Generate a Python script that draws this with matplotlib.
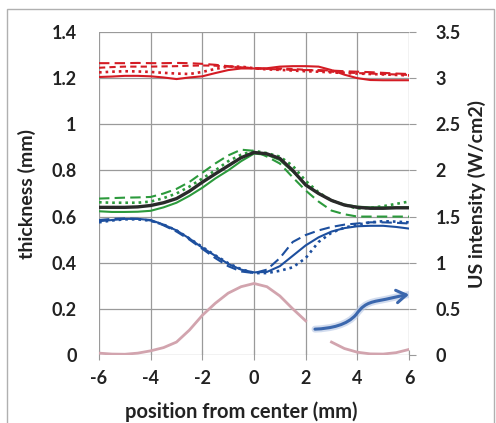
import numpy as np
import matplotlib
matplotlib.use("Agg")
import matplotlib.pyplot as plt
from matplotlib.path import Path
from matplotlib.patches import FancyArrowPatch, Rectangle

plt.rcParams['font.family'] = ['Lato', 'DejaVu Sans']
plt.rcParams['font.weight'] = 'bold'

# ---------------- data ----------------
x = [-6, -5.5, -5, -4.5, -4, -3.5, -3, -2.5, -2, -1.5, -1, -0.5, 0,
     0.5, 1, 1.5, 2, 2.5, 3, 3.5, 4, 4.5, 5, 5.5, 6]

red_solid = [1.205, 1.207, 1.21, 1.21, 1.208, 1.203, 1.196, 1.203, 1.208, 1.222, 1.235, 1.242, 1.242,
             1.243, 1.25, 1.252, 1.252, 1.25, 1.235, 1.215, 1.2, 1.192, 1.191, 1.191, 1.191]
red_dash = [1.265, 1.265, 1.265, 1.266, 1.265, 1.265, 1.266, 1.265, 1.262, 1.258, 1.252, 1.247, 1.243,
            1.24, 1.238, 1.236, 1.235, 1.235, 1.233, 1.23, 1.228, 1.226, 1.223, 1.22, 1.218]
red_dash2 = [1.245, 1.248, 1.25, 1.25, 1.25, 1.251, 1.252, 1.254, 1.255, 1.254, 1.25, 1.246, 1.243,
             1.24, 1.242, 1.24, 1.236, 1.232, 1.228, 1.225, 1.222, 1.22, 1.218, 1.216, 1.214]
red_dot = [1.225, 1.228, 1.23, 1.229, 1.227, 1.223, 1.22, 1.218, 1.227, 1.24, 1.25, 1.25, 1.243,
           1.238, 1.236, 1.233, 1.23, 1.228, 1.225, 1.222, 1.22, 1.218, 1.216, 1.214, 1.212]

black_fit = [0.64, 0.64, 0.64, 0.642, 0.648, 0.66, 0.678, 0.71, 0.749, 0.785, 0.82, 0.855, 0.878,
             0.872, 0.852, 0.8, 0.737, 0.7, 0.67, 0.65, 0.64, 0.636, 0.636, 0.638, 0.638]
green_solid = [0.623, 0.62, 0.62, 0.621, 0.625, 0.64, 0.66, 0.69, 0.725, 0.765, 0.8, 0.84, 0.873,
               0.868, 0.845, 0.795, 0.74, 0.7, 0.67, 0.652, 0.643, 0.64, 0.64, 0.64, 0.64]
green_dash = [0.678, 0.68, 0.682, 0.683, 0.685, 0.7, 0.72, 0.75, 0.79, 0.83, 0.865, 0.89, 0.885,
              0.86, 0.83, 0.77, 0.713, 0.665, 0.626, 0.61, 0.6, 0.6, 0.6, 0.6, 0.6]
green_dot = [0.662, 0.66, 0.66, 0.66, 0.665, 0.68, 0.7, 0.73, 0.765, 0.8, 0.84, 0.868, 0.885,
             0.875, 0.86, 0.82, 0.755, 0.705, 0.67, 0.65, 0.635, 0.638, 0.645, 0.655, 0.665]

blue_solid = [0.58, 0.585, 0.59, 0.59, 0.585, 0.565, 0.54, 0.505, 0.465, 0.43, 0.395, 0.37, 0.358,
              0.36, 0.385, 0.43, 0.475, 0.51, 0.535, 0.55, 0.558, 0.56, 0.56, 0.555, 0.548]
blue_dash = [0.585, 0.59, 0.592, 0.59, 0.583, 0.562, 0.535, 0.5, 0.46, 0.42, 0.385, 0.362, 0.355,
             0.37, 0.42, 0.49, 0.52, 0.54, 0.555, 0.565, 0.57, 0.575, 0.575, 0.573, 0.57]
blue_dot = [0.575, 0.583, 0.588, 0.588, 0.582, 0.565, 0.54, 0.505, 0.468, 0.432, 0.398, 0.372, 0.355,
            0.355, 0.365, 0.38, 0.42, 0.49, 0.53, 0.552, 0.565, 0.575, 0.58, 0.578, 0.575]

intensity = [0.02, 0.01, 0.008, 0.02, 0.045, 0.08, 0.14, 0.27, 0.43, 0.56, 0.67, 0.74, 0.775,
             0.74, 0.64, 0.5, 0.37, np.nan, 0.14, 0.07, 0.03, 0.012, 0.01, 0.025, 0.06]

# annotation arrow: cubic bezier control points (left-axis data coordinates)
arrow_x = [2.36, 3.0, 3.6, 3.95, 4.15, 4.3, 4.8, 5.2, 5.6, 6.0]
arrow_y = [0.112, 0.115, 0.13, 0.175, 0.205, 0.225, 0.235, 0.243, 0.255, 0.262]

xticks = [-6, -4, -2, 0, 2, 4, 6]
yticks_left = [0, 0.2, 0.4, 0.6, 0.8, 1.0, 1.2, 1.4]
yticklabels_left = ['0', '0.2', '0.4', '0.6', '0.8', '1', '1.2', '1.4']
yticks_right = [0, 0.5, 1, 1.5, 2, 2.5, 3, 3.5]
yticklabels_right = ['0', '0.5', '1', '1.5', '2', '2.5', '3', '3.5']

# ---------------- figure ----------------
fig = plt.figure(figsize=(4.96, 4.23), dpi=100)
ax = fig.add_axes([0.1996, 0.1608, 0.625, 0.7635])
ax2 = ax.twinx()

RED = '#d41c24'
GREEN = '#2c9a3c'
BLUE = '#1d4f9e'
BLACK = '#2a2a2a'
PINK = '#d2a4ae'

lw = 1.5
ax.plot(x, red_solid, color=RED, lw=lw, ls='-')
ax.plot(x, red_dash, color=RED, lw=lw, ls=(0, (5, 2.5)))
ax.plot(x, red_dash2, color=RED, lw=lw, ls=(0, (3, 2)))
ax.plot(x, red_dot, color=RED, lw=lw + 0.4, ls=(0, (1, 1.5)))

ax.plot(x, green_solid, color=GREEN, lw=lw, ls='-')
ax.plot(x, green_dash, color=GREEN, lw=lw, ls=(0, (5, 2.5)))
ax.plot(x, green_dot, color=GREEN, lw=lw + 0.4, ls=(0, (1, 1.5)))
ax.plot(x, black_fit, color=BLACK, lw=2.4, ls='-')

ax.plot(x, blue_solid, color=BLUE, lw=lw, ls='-')
ax.plot(x, blue_dash, color=BLUE, lw=lw, ls=(0, (5, 2.5)))
ax.plot(x, blue_dot, color=BLUE, lw=lw + 0.4, ls=(0, (1, 1.5)))

ax2.plot(x, intensity, color=PINK, lw=2.0)

# arrow
verts = list(zip(arrow_x, arrow_y))
codes = [Path.MOVETO] + [Path.CURVE4] * (len(verts) - 1)
path = Path(verts, codes)
shadow = FancyArrowPatch(path=path, arrowstyle='-', color='#b4c5e4', lw=5, alpha=0.6,
                         transform=ax.transData, zorder=4)
ax.add_patch(shadow)
arr = FancyArrowPatch(path=path, arrowstyle='->,head_length=7,head_width=4.5', color='#3b67ad', lw=2.2,
                      transform=ax.transData, zorder=5, mutation_scale=1)
ax.add_patch(arr)

ax.set_xlim(-6, 6)
ax.set_ylim(0, 1.4)
ax2.set_ylim(0, 3.5)
ax.set_xticks(xticks)
ax.set_xticklabels([str(t) for t in xticks])
ax.set_yticks(yticks_left)
ax.set_yticklabels(yticklabels_left)
ax2.set_yticks(yticks_right)
ax2.set_yticklabels(yticklabels_right)

ax.grid(True, color='#9a9a9a', lw=0.9)
ax.set_axisbelow(True)
for a in (ax, ax2):
    for s in a.spines.values():
        s.set_visible(False)

ax.tick_params(axis='x', direction='inout', length=7, color='#9a9a9a', labelsize=13, pad=7,
               labelcolor='#222222')
ax.tick_params(axis='y', length=0, labelsize=13, pad=16, labelcolor='#222222')
ax2.tick_params(axis='y', direction='out', length=5, color='#9a9a9a', labelsize=13, pad=14,
                labelcolor='#222222')

ax.set_xlabel('position from center (mm)', fontsize=14.5, fontweight='bold', color='#222222', labelpad=11)
ax.xaxis.label.set_x(0.46)
ax.set_ylabel('thickness (mm)', fontsize=14, fontweight='bold', color='#222222', labelpad=11)
ax2.set_ylabel('US intensity (W/cm2)', fontsize=14, fontweight='bold', color='#222222', labelpad=5)

# figure border
fig.patches.append(Rectangle((7 / 496, -0.01), 487 / 496, 1 - 9 / 423 + 0.01, transform=fig.transFigure,
                             fill=False, edgecolor='#b0b0b0', lw=1.0))

fig.savefig('out.png', dpi=100)
